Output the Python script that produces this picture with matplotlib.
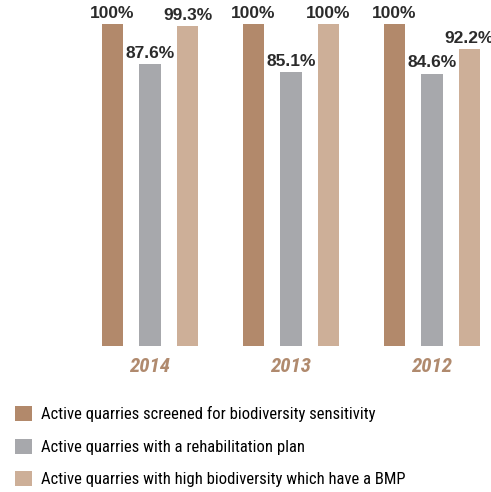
import matplotlib
matplotlib.use("Agg")
import matplotlib.pyplot as plt
import numpy as np

years = ["2014", "2013", "2012"]
series_labels = [
    "Active quarries screened for biodiversity sensitivity",
    "Active quarries with a rehabilitation plan",
    "Active quarries with high biodiversity which have a BMP",
]
screened = [100, 100, 100]
rehab_plan = [87.6, 85.1, 84.6]
with_bmp = [99.3, 100, 92.2]
value_labels = [
    ["100%", "100%", "100%"],
    ["87.6%", "85.1%", "84.6%"],
    ["99.3%", "100%", "92.2%"],
]

colors = ["#B2896B", "#A7A8AC", "#CDAF98"]
narrow = ["Roboto Condensed", "Liberation Sans Narrow", "Liberation Sans"]

fig = plt.figure(figsize=(4.91, 4.92), dpi=100)
# axes from pixel x 0..491, y 0..346 (from top)
ax = fig.add_axes([0, (492 - 346) / 492, 1, 346 / 492])

x = np.arange(len(years))
offset = 0.266
width = 0.149
bars = []
for i, vals in enumerate([screened, rehab_plan, with_bmp]):
    b = ax.bar(x + (i - 1) * offset, vals, width, color=colors[i], label=series_labels[i])
    bars.append(b)
    for j, rect in enumerate(b):
        ax.text(rect.get_x() + rect.get_width() / 2, rect.get_height() + 1.0,
                value_labels[i][j], ha="center", va="bottom",
                fontsize=12.5, color="#2b2b2b", family="Liberation Sans",
                weight="bold")

ax.set_xlim(-150 / 141, (491 - 150) / 141)
ax.set_ylim(0, 100 * 346 / 322)
ax.set_xticks(x)
ax.set_xticklabels(years, fontsize=15, style="italic", weight="bold",
                   color="#B08A6E", family=narrow)
ax.tick_params(axis="x", length=0, pad=8)
ax.set_yticks([])
for s in ax.spines.values():
    s.set_visible(False)

fig.legend(handles=bars, labels=series_labels, loc="upper left",
           bbox_to_anchor=(15 / 491, 1 - 406 / 492), frameon=False,
           prop={"family": narrow, "size": 12},
           handlelength=1.02, handleheight=1.02, handletextpad=0.55,
           labelspacing=0.98, borderaxespad=0, borderpad=0)

fig.savefig("out.png", dpi=100)
